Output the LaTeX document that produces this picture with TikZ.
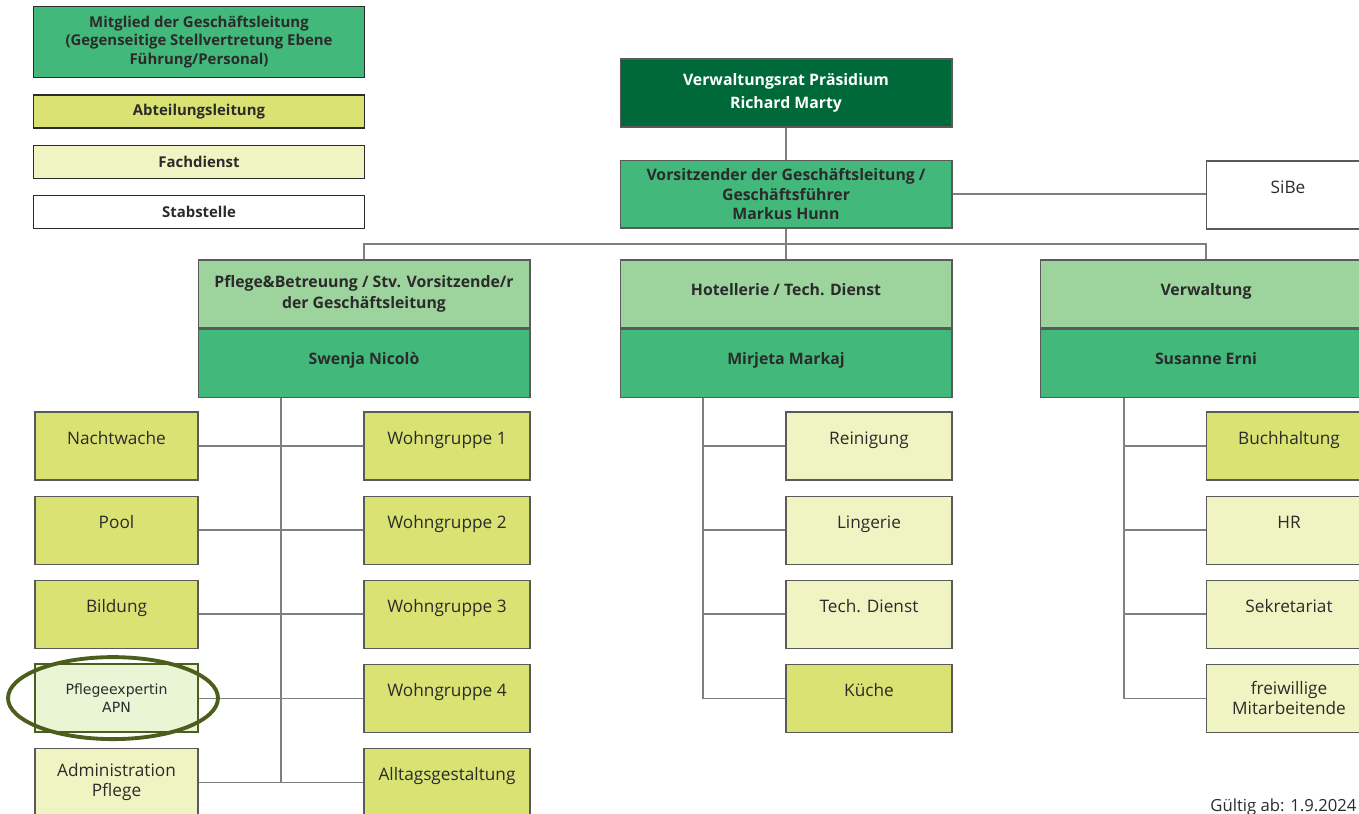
\documentclass[tikz,border=0pt]{standalone}
\usepackage{fontspec}
\setmainfont{Open Sans}
\newfontfamily\apnfont{DejaVu Sans}
\usetikzlibrary{positioning}

\definecolor{vrgreen}{HTML}{00693A}
\definecolor{glgreen}{HTML}{42B87B}
\definecolor{headgreen}{HTML}{9DD39C}
\definecolor{abtyellow}{HTML}{D9E272}
\definecolor{fachyellow}{HTML}{F0F4C2}
\definecolor{apnfill}{HTML}{E9F5D5}
\definecolor{ring}{HTML}{4B5E1C}
\definecolor{linegrey}{HTML}{808080}
\definecolor{boxline}{HTML}{5A5A5A}
\definecolor{ink}{HTML}{2B2B2B}

\begin{document}
\begin{tikzpicture}[
                x=0.02cm, y=-0.02cm,
                node distance=0.3cm,
                every node/.style={
                        draw=boxline,
                        line width=0.6pt,
                        align=center,
                        text=ink,
                        inner sep=2pt
                    },
                legend/.style={minimum width=6.64cm, minimum height=0.66cm, draw=ink,
                        font=\bfseries\fontsize{8.5}{10.5}\selectfont},
                lead/.style={minimum width=6.64cm, minimum height=1.36cm,
                        font=\bfseries\fontsize{9}{11}\selectfont},
                unit/.style={minimum width=3.32cm, minimum height=1.36cm,
                        font=\fontsize{9.8}{11.5}\selectfont},
                oneline/.style={text height=7pt, text depth=9pt},
                leadline/.style={text height=7pt, text depth=5.5pt},
                abt/.style={unit, fill=abtyellow},
                fach/.style={unit, fill=fachyellow},
                link/.style={draw=linegrey, line width=0.7pt}
            ]

            \useasboundingbox (0,0) rectangle (1359,814);

            % legend
            \node[legend, fill=glgreen, minimum height=1.42cm] (lgGL) at (199,42)
                {Mitglied der Geschäftsleitung\\(Gegenseitige Stellvertretung Ebene\\Führung/Personal)};
            \node[legend, fill=abtyellow] (lgAbt) at (199,111.5) {Abteilungsleitung};
            \node[legend, fill=fachyellow, below=0.32cm of lgAbt] (lgFach) {Fachdienst};
            \node[legend, fill=white, below=0.32cm of lgFach] (lgStab) {Stabstelle};

            % top
            \node[lead, fill=vrgreen, text=white, font=\bfseries\fontsize{9}{13}\selectfont] (vr) at (786,93)
                {Verwaltungsrat Präsidium\\Richard Marty};
            \node[lead, fill=glgreen, below=0.64cm of vr] (gf) {Vorsitzender der Geschäftsleitung /\\Geschäftsführer\\Markus Hunn};
            \node[unit, fill=white, minimum width=3.28cm, oneline] (sibe) at (1288,195) {SiBe};

            % departments
            \node[lead, fill=headgreen, font=\bfseries\fontsize{9}{12}\selectfont] (pflegeT) at (364,294)
                {Pflege\&Betreuung / Stv. Vorsitzende/r\\der Geschäftsleitung};
            \node[lead, fill=glgreen, below=0cm of pflegeT, leadline] (pflege) {Swenja Nicolò};
            \node[lead, fill=headgreen, leadline] (hotelT) at (786,294) {Hotellerie / Tech. Dienst};
            \node[lead, fill=glgreen, below=0cm of hotelT, leadline] (hotel) {Mirjeta Markaj};
            \node[lead, fill=headgreen, leadline] (verwT) at (1206,294) {Verwaltung};
            \node[lead, fill=glgreen, below=0cm of verwT, leadline] (verw) {Susanne Erni};

            % Pflege, left
            \node[abt, oneline, minimum width=3.26cm] (nacht) at (116.5,446) {Nachtwache};
            \node[abt, oneline, minimum width=3.26cm, below=of nacht] (pool) {Pool};
            \node[abt, oneline, minimum width=3.26cm, below=of pool] (bildung) {Bildung};
            \node[unit, minimum width=3.26cm, fill=apnfill, draw=ring, line width=1.2pt, outer sep=0.3pt,
                font=\apnfont\fontsize{8}{10.5}\selectfont, below=of bildung] (apn) {Pflegeexpertin\\APN};
            \node[fach, minimum width=3.26cm, below=of apn] (admin) {Administration\\Pflege};

            % Pflege, right
            \node[abt, oneline] (wg1) at (447,446) {Wohngruppe 1};
            \node[abt, oneline, below=of wg1] (wg2) {Wohngruppe 2};
            \node[abt, oneline, below=of wg2] (wg3) {Wohngruppe 3};
            \node[abt, oneline, below=of wg3] (wg4) {Wohngruppe 4};
            \node[abt, oneline, below=of wg4] (alltag) {Alltagsgestaltung};

            % Hotellerie
            \node[fach, oneline] (rein) at (869,446) {Reinigung};
            \node[fach, oneline, below=of rein] (ling) {Lingerie};
            \node[fach, oneline, below=of ling] (tech) {Tech. Dienst};
            \node[abt, oneline, below=of tech] (kueche) {Küche};

            % Verwaltung
            \node[abt, oneline] (buch) at (1289,446) {Buchhaltung};
            \node[fach, oneline, below=of buch] (hr) {HR};
            \node[fach, oneline, below=of hr] (sek) {Sekretariat};
            \node[fach, below=of sek] (frei) {freiwillige\\Mitarbeitende};

            \node[draw=none, inner sep=0pt, anchor=base east, font=\fontsize{9.5}{11}\selectfont] (valid) at (1357,811) {Gültig ab: 1.9.2024};

            % lines
            \coordinate (bus) at (786,244);
            \coordinate (pspine) at (281,0);
            \coordinate (hspine) at (703,0);
            \coordinate (vspine) at (1124,0);

            \draw[link] (vr) -- (gf);
            \draw[link] (gf) -- (hotelT);
            \draw[link] (gf.east) -- (gf.east -| sibe.west);
            \draw[link] (pflegeT) |- (bus) -| (verwT);

            \draw[link] (pspine |- pflege.south) -- (pspine |- admin);
            \foreach \l/\r in {nacht/wg1, pool/wg2, bildung/wg3, apn/wg4, admin/alltag}
                \draw[link] (\l) -- (\r);

            \draw[link] (hspine |- hotel.south) |- (kueche);
            \foreach \u in {rein, ling, tech}
                \draw[link] (hspine |- \u) -- (\u);

            \draw[link] (vspine |- verw.south) |- (frei);
            \foreach \u in {buch, hr, sek}
                \draw[link] (vspine |- \u) -- (\u);

            \draw[ring, line width=2.2pt] ([xshift=-0.07cm]apn.center) ellipse [x radius=2.1cm, y radius=0.82cm];

        \end{tikzpicture}
\end{document}
